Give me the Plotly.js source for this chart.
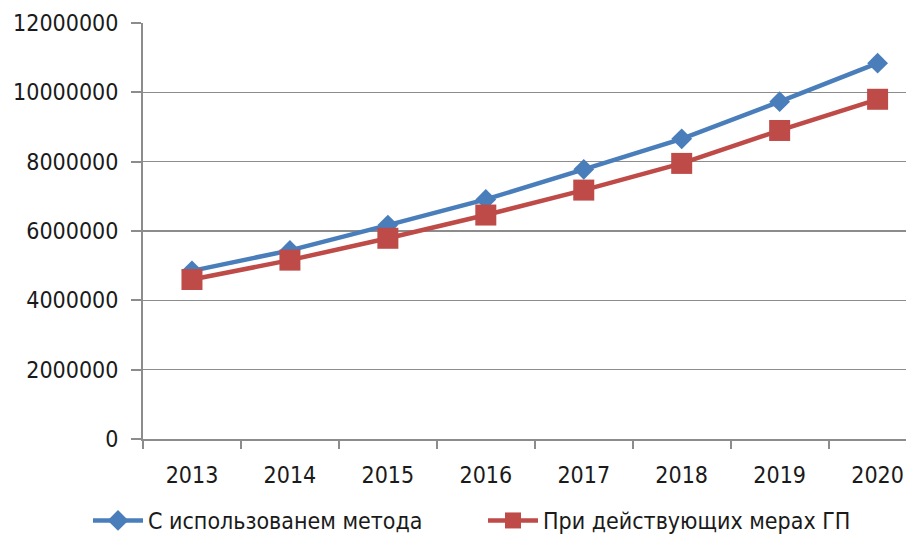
<!DOCTYPE html>
<html>
<head>
<meta charset="utf-8">
<script src="https://cdn.plot.ly/plotly-3.0.1.min.js"></script>
<style>html,body{margin:0;padding:0;background:#fff;}#chart{width:906px;height:542px;}</style>
</head>
<body>
<div id="chart"></div>
<script>
var years = ['2013','2014','2015','2016','2017','2018','2019','2020'];
var seriesMethodName = 'С использованем метода';
var seriesMethod = [4850000, 5440000, 6170000, 6910000, 7780000, 8660000, 9730000, 10840000];
var seriesCurrentName = 'При действующих мерах ГП';
var seriesCurrent = [4600000, 5160000, 5790000, 6460000, 7180000, 7950000, 8900000, 9800000];
var yTicks = [0, 2000000, 4000000, 6000000, 8000000, 10000000, 12000000];

var FONT = 'DejaVu Sans Condensed, Liberation Sans Narrow, DejaVu Sans, sans-serif';

var traces = [
  {
    x: years, y: seriesMethod, name: seriesMethodName, type: 'scatter', mode: 'lines+markers',
    line: {color: '#4a7ebb', width: 4.5},
    marker: {symbol: 'diamond', size: 16, color: '#4a7ebb'},
    legend: 'legend'
  },
  {
    x: years, y: seriesCurrent, name: seriesCurrentName, type: 'scatter', mode: 'lines+markers',
    line: {color: '#be4b48', width: 4.5},
    marker: {symbol: 'square', size: 21, color: '#be4b48'},
    legend: 'legend2'
  }
];

var legendCommon = {
  orientation: 'h', xref: 'container', yref: 'container',
  xanchor: 'left', y: -0.01, yanchor: 'bottom',
  itemwidth: 50,
  font: {family: FONT, size: 23, color: '#1a1a1a'},
  bgcolor: 'rgba(0,0,0,0)'
};

var layout = {
  width: 906, height: 542,
  margin: {l: 143, r: 0, t: 23, b: 103, pad: 0},
  paper_bgcolor: '#ffffff', plot_bgcolor: '#ffffff',
  font: {family: FONT, size: 23, color: '#1a1a1a'},
  showlegend: true,
  xaxis: {
    type: 'category', range: [-0.5, 7.29],
    showgrid: false, zeroline: false,
    showline: true, linecolor: '#8c8c8c', linewidth: 2,
    ticks: 'outside', tickson: 'boundaries', ticklen: 8, tickcolor: '#8c8c8c', tickwidth: 2,
    ticklabelstandoff: 14,
    tickfont: {family: FONT, size: 23, color: '#1a1a1a'}
  },
  yaxis: {
    range: [0, 12000000], tickmode: 'array', tickvals: yTicks,
    ticktext: yTicks.map(function(v){return String(v);}),
    showgrid: true, gridcolor: '#8c8c8c', gridwidth: 1.5,
    zeroline: false,
    showline: true, linecolor: '#8c8c8c', linewidth: 2,
    ticks: 'outside', ticklen: 10, tickcolor: '#8c8c8c', tickwidth: 2,
    ticklabelstandoff: 8,
    tickfont: {family: FONT, size: 23, color: '#1a1a1a'}
  },
  legend: Object.assign({}, legendCommon, {x: 88 / 906}),
  legend2: Object.assign({}, legendCommon, {x: 483 / 906})
};

Plotly.newPlot('chart', traces, layout, {displayModeBar: false, staticPlot: true});
</script>
</body>
</html>
